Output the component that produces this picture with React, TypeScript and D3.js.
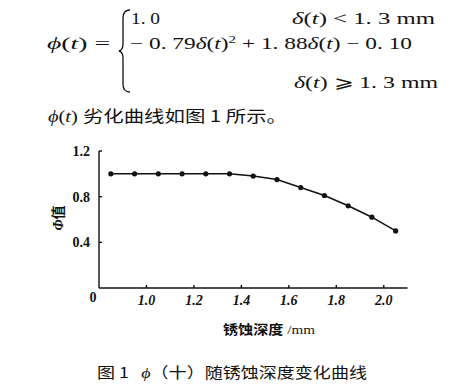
import React from "react";
import * as d3 from "d3";

const depth = [0.85, 0.95, 1.05, 1.15, 1.25, 1.35, 1.45, 1.55, 1.65, 1.75, 1.85, 1.95, 2.05];
const phi = [1.0, 1.0, 1.0, 1.0, 1.0, 1.0, 0.98, 0.95, 0.88, 0.81, 0.72, 0.62, 0.5];
const xTicks = [1.0, 1.2, 1.4, 1.6, 1.8, 2.0];
const yTicks = [0.4, 0.8, 1.2];

const serif = "'Liberation Serif', 'DejaVu Serif', serif";
const cjk = "'Noto Sans CJK SC', sans-serif";

export default function App() {
  const x = d3.scaleLinear().domain([0.8, 2.1]).range([99, 407.5]);
  const y = d3.scaleLinear().domain([0, 1.2]).range([288, 151]);
  const line = d3
    .line<number>()
    .x((_, i) => x(depth[i]))
    .y((d) => y(d));

  return (
    <svg
      width={467}
      height={386}
      style={{ position: "absolute", left: 0, top: 0, background: "#fff" }}
    >
      {/* formula */}
      <g fill="#111" fontFamily={serif} fontSize={17}>
        <text x={47} y={49} textLength={63} lengthAdjust="spacingAndGlyphs">
          <tspan fontStyle="italic">ϕ</tspan>(<tspan fontStyle="italic">t</tspan>) =
        </text>
        <path
          d="M130,10 Q123,10 123,18 L123,44 Q123,50 119,51 Q123,52 123,58 L123,84 Q123,92 130,92"
          fill="none"
          stroke="#111"
          strokeWidth={1.3}
        />
        <text x={131} y={24} textLength={29} lengthAdjust="spacingAndGlyphs">1. 0</text>
        <text x={292} y={24} textLength={143} lengthAdjust="spacingAndGlyphs">
          <tspan fontStyle="italic">δ</tspan>(<tspan fontStyle="italic">t</tspan>) &lt; 1. 3 mm
        </text>
        <text x={130} y={49} textLength={282} lengthAdjust="spacingAndGlyphs">
          − 0. 79<tspan fontStyle="italic">δ</tspan>(<tspan fontStyle="italic">t</tspan>)
          <tspan dy={-6} fontSize={11}>2</tspan>
          <tspan dy={6}> + 1. 88</tspan>
          <tspan fontStyle="italic">δ</tspan>(<tspan fontStyle="italic">t</tspan>) − 0. 10
        </text>
        <text x={294} y={88} textLength={144} lengthAdjust="spacingAndGlyphs">
          <tspan fontStyle="italic">δ</tspan>(<tspan fontStyle="italic">t</tspan>) ⩾ 1. 3 mm
        </text>
        <text x={48} y={122} fontSize={16} textLength={239} lengthAdjust="spacingAndGlyphs">
          <tspan fontFamily={serif} fontStyle="italic">ϕ</tspan>
          <tspan fontFamily={serif}>(</tspan>
          <tspan fontFamily={serif} fontStyle="italic">t</tspan>
          <tspan fontFamily={serif}>){"\u00a0"}</tspan>
          <tspan fontFamily={cjk}>劣化曲线如图{"\u00a0"}1{"\u00a0"}所示。</tspan>
        </text>
      </g>

      {/* axes */}
      <g stroke="#111" strokeWidth={1.4} fill="none">
        <line x1={99} x2={99} y1={y(1.2)} y2={y(0)} />
        <line x1={99} x2={407.5} y1={y(0)} y2={y(0)} />
        {yTicks.map((t) => (
          <line key={"yt" + t} x1={99} x2={102} y1={y(t)} y2={y(t)} />
        ))}
        {xTicks.map((t) => (
          <line key={"xt" + t} x1={x(t)} x2={x(t)} y1={y(0)} y2={y(0) - 3} />
        ))}
      </g>

      <g fill="#111" fontFamily={serif} fontSize={14} fontWeight="bold">
        {yTicks.map((t) => (
          <text key={"yl" + t} x={90} y={y(t) + 5} textAnchor="end">
            {d3.format(".1f")(t)}
          </text>
        ))}
        <text x={93} y={302} textAnchor="middle">0</text>
        {xTicks.map((t) => (
          <text key={"xl" + t} x={x(t)} y={305} textAnchor="middle" fontStyle="italic">
            {d3.format(".1f")(t)}
          </text>
        ))}
      </g>

      {/* axis titles */}
      <text
        transform="translate(63,218) rotate(-90)"
        textAnchor="middle"
        fontSize={14}
        fontWeight="bold"
        fill="#111"
      >
        <tspan fontFamily={serif} fontStyle="italic">Φ</tspan>
        <tspan fontFamily={cjk}>值</tspan>
      </text>
      <text x={223} y={334} fontSize={13} fill="#111" textLength={92} lengthAdjust="spacingAndGlyphs">
        <tspan fontFamily={cjk} fontWeight="bold">锈蚀深度</tspan>
        <tspan fontFamily={serif}>{"\u00a0"}/mm</tspan>
      </text>

      {/* curve */}
      <path d={line(phi) || ""} fill="none" stroke="#111" strokeWidth={1.5} />
      {phi.map((v, i) => (
        <circle key={"p" + i} cx={x(depth[i])} cy={y(v)} r={2.6} fill="#111" />
      ))}

      {/* caption */}
      <text x={97} y={378} fontSize={15} fill="#111" textLength={270} lengthAdjust="spacingAndGlyphs">
        <tspan fontFamily={cjk}>图{"\u00a0"}1{"\u00a0\u00a0\u00a0"}</tspan>
        <tspan fontFamily={serif} fontStyle="italic">ϕ</tspan>
        <tspan fontFamily={cjk}>（十）随锈蚀深度变化曲线</tspan>
      </text>
    </svg>
  );
}
